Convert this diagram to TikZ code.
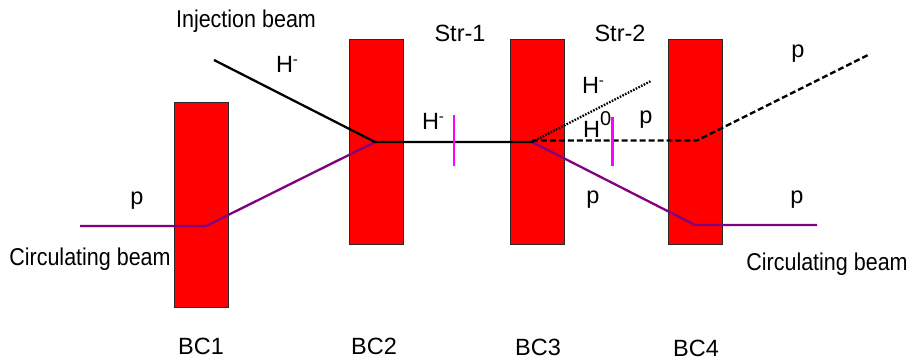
\documentclass[tikz,border=0pt]{standalone}
\usepackage{graphicx}
\usepackage{fontspec}
\setmainfont{Liberation Sans}
\newcommand{\talltext}[1]{\scalebox{1}[1.13]{#1}}
\newcommand{\supr}[1]{\raisebox{7.5bp}{\fontsize{15bp}{16bp}\selectfont #1}}
\newcommand{\suprbig}[1]{\raisebox{12bp}{\fontsize{20bp}{21bp}\selectfont #1}}
\tikzset{
 magnet/.style={draw={rgb,255:red,40;green,40;blue,40},line width=0.9pt,fill=red,minimum width=54bp,minimum height=205bp,inner sep=0pt,anchor=north west},
 lbl/.style={inner sep=0pt,font=\fontsize{21.5bp}{23bp}\selectfont,text=black},
 big/.style={inner sep=0pt,font=\fontsize{23.5bp}{25bp}\selectfont,text=black},
 pur/.style={draw={rgb,255:red,128;green,0;blue,128},line width=2.3pt},
 blk/.style={draw=black,line width=2.3pt},
 tick/.style={draw={rgb,255:red,255;green,0;blue,255},line width=2.1pt}
}
\begin{document}
\begin{tikzpicture}[x=1bp,y=-1bp]
\useasboundingbox (0,0) rectangle (909,361);
\node[magnet] (bc1) at (174,102) {};
\node[magnet] (bc2) at (349,39) {};
\node[magnet] (bc3) at (510,39) {};
\node[magnet] (bc4) at (668,39) {};
\coordinate (pstart) at (80,226);
\coordinate (p1) at (206,226);
\coordinate (m2) at (375,142);
\coordinate (m3) at (532,142);
\coordinate (p4) at (695,225);
\coordinate (pend) at (817,225);
\coordinate (inj) at (214,60);
\coordinate (d3) at (532,140.5);
\coordinate (p4b) at (697,140.5);
\coordinate (pout) at (868,55);
\coordinate (hm) at (651,81);
\coordinate (t1a) at (454,115);
\coordinate (t1b) at (454,166);
\coordinate (t2a) at (612.5,117);
\coordinate (t2b) at (612.5,166);
\draw[pur] (pstart) -- (p1) -- (m2);
\draw[pur] (m3) -- (p4) -- (pend);
\draw[blk] (inj) -- (m2) -- (m3);
\draw[blk,dash pattern=on 6pt off 3pt] (d3) -- (p4b) -- (pout);
\draw[black,line width=2.3pt,dash pattern=on 1.6pt off 1.4pt] (m3) -- (hm);
\draw[tick] (t1a) -- (t1b);
\draw[tick] (t2a) -- (t2b);
\node[lbl] (a) at (246,21) {\talltext{Injection beam}};
\node[big] (b) at (287,64) {H\supr{-}};
\node[big] (c) at (460,33) {Str-1};
\node[big] (d) at (620,33) {Str-2};
\node[big] (e) at (433,121) {H\supr{-}};
\node[big] (f) at (593,85) {H\supr{-}};
\node[big,anchor=base west] (g) at (583,137) {H\suprbig{0}};
\node[big] (h) at (646,120) {p};
\node[big] (i) at (798,54) {p};
\node[big] (j) at (137,201) {p};
\node[big] (k) at (593,200) {p};
\node[big] (l) at (797,200) {p};
\node[lbl] (m) at (90,259) {\talltext{Circulating beam}};
\node[lbl] (n) at (827,264) {\talltext{Circulating beam}};
\node[big] (o) at (201,346) {BC1};
\node[big] (q) at (374,346) {BC2};
\node[big] (r) at (538,347) {BC3};
\node[big] (s) at (696,348) {BC4};
\end{tikzpicture}
\end{document}
